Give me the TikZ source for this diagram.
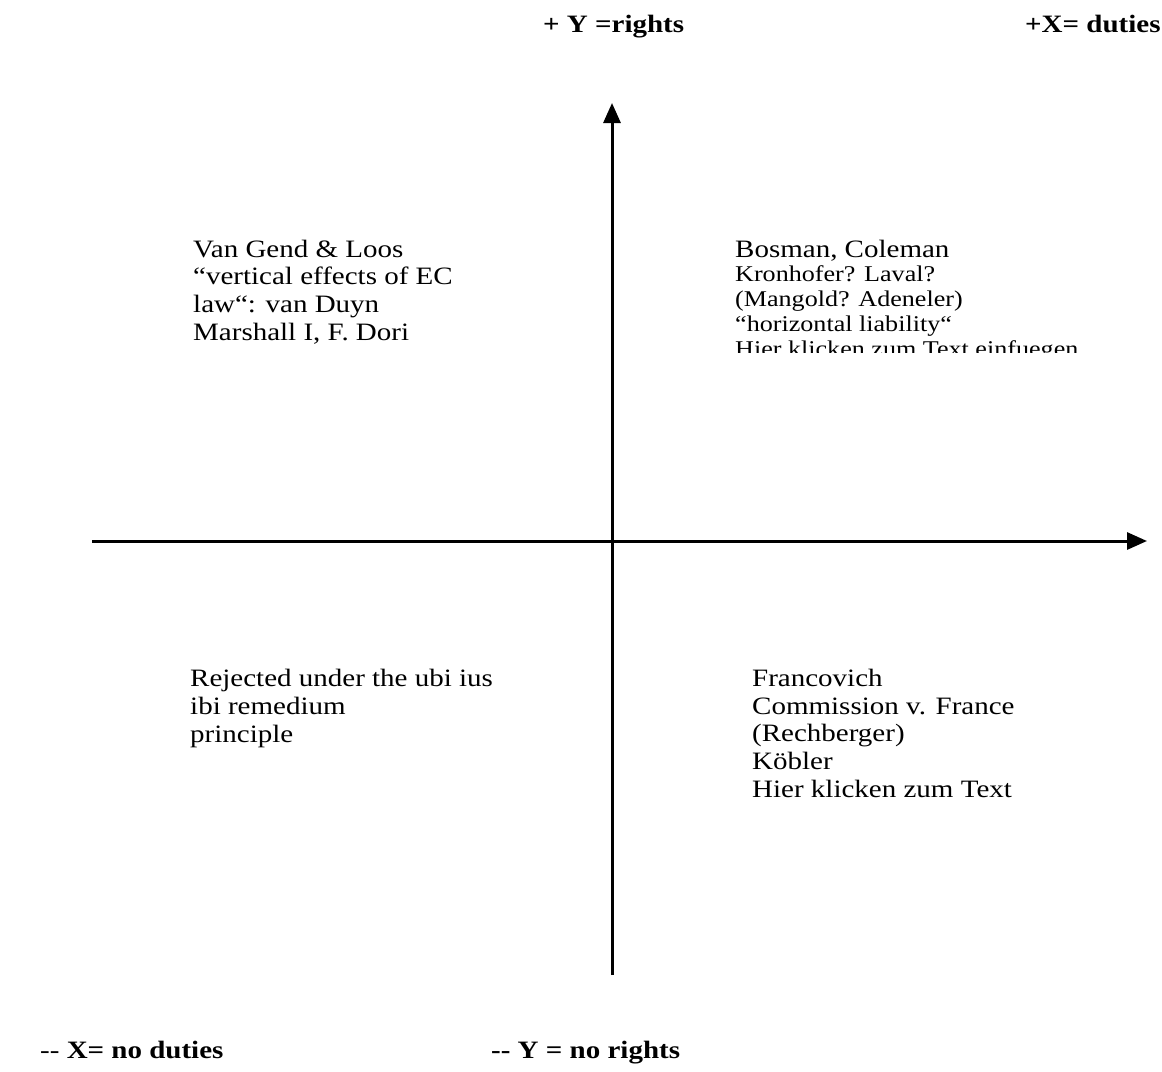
\documentclass[tikz,border=0pt]{standalone}
\usepackage{fontspec}
\setmainfont{Liberation Serif}[FakeStretch=1.16]
\usetikzlibrary{arrows.meta}
\begin{document}
\begin{tikzpicture}[x=1pt,y=-1pt,
  axis/.style={line width=3pt,-{Triangle[length=20pt,width=17pt]}},
  quadtext/.style={anchor=base west,inner sep=0pt,align=left,font=\fontsize{25}{27.6}\selectfont},
  smalltext/.style={anchor=base west,inner sep=0pt,align=left,font=\fontsize{22.5}{25}\selectfont},
  axlabel/.style={anchor=base west,inner sep=0pt,font=\fontsize{25}{28}\selectfont\bfseries}]
\useasboundingbox[fill=white] (0,0) rectangle (1162,1071);
% axes
\coordinate (xs) at (92,541);
\coordinate (xe) at (1147,541);
\coordinate (ys) at (612,975);
\coordinate (ye) at (612,103);
\draw[axis] (xs) -- (xe);
\draw[axis] (ys) -- (ye);
% axis labels
\node[axlabel] (yplus) at (543,32) {+ Y =rights};
\node[axlabel] (xplus) at (1025,32) {+X= duties};
\node[axlabel] (xminus) at (40,1058) {\mdseries-{}-\ \bfseries X= no duties};
\node[axlabel] (yminus) at (491,1058) {-{}- Y = no rights};
% quadrant texts (base anchor = baseline of last line)
\node[quadtext] (ul) at (193,340) {Van Gend \& Loos\\“vertical effects of EC\\law“: van Duyn\\Marshall I, F. Dori};
\begin{scope}
\clip (700,200) rectangle (1162,352);
\node[anchor=base west,inner sep=0pt,font=\fontsize{25}{27}\selectfont] (urtop) at (735,257) {Bosman, Coleman};
\node[smalltext] (ur) at (735,356) {Kronhofer? Laval?\\(Mangold? Adeneler)\\“horizontal liability“\\Hier klicken zum Text einfuegen};
\end{scope}
\node[quadtext] (ll) at (190,742) {Rejected under the ubi ius\\ibi remedium\\principle};
\node[quadtext] (lr) at (752,797) {Francovich\\Commission v. France\\(Rechberger)\\Köbler\\Hier klicken zum Text};
\end{tikzpicture}
\end{document}
